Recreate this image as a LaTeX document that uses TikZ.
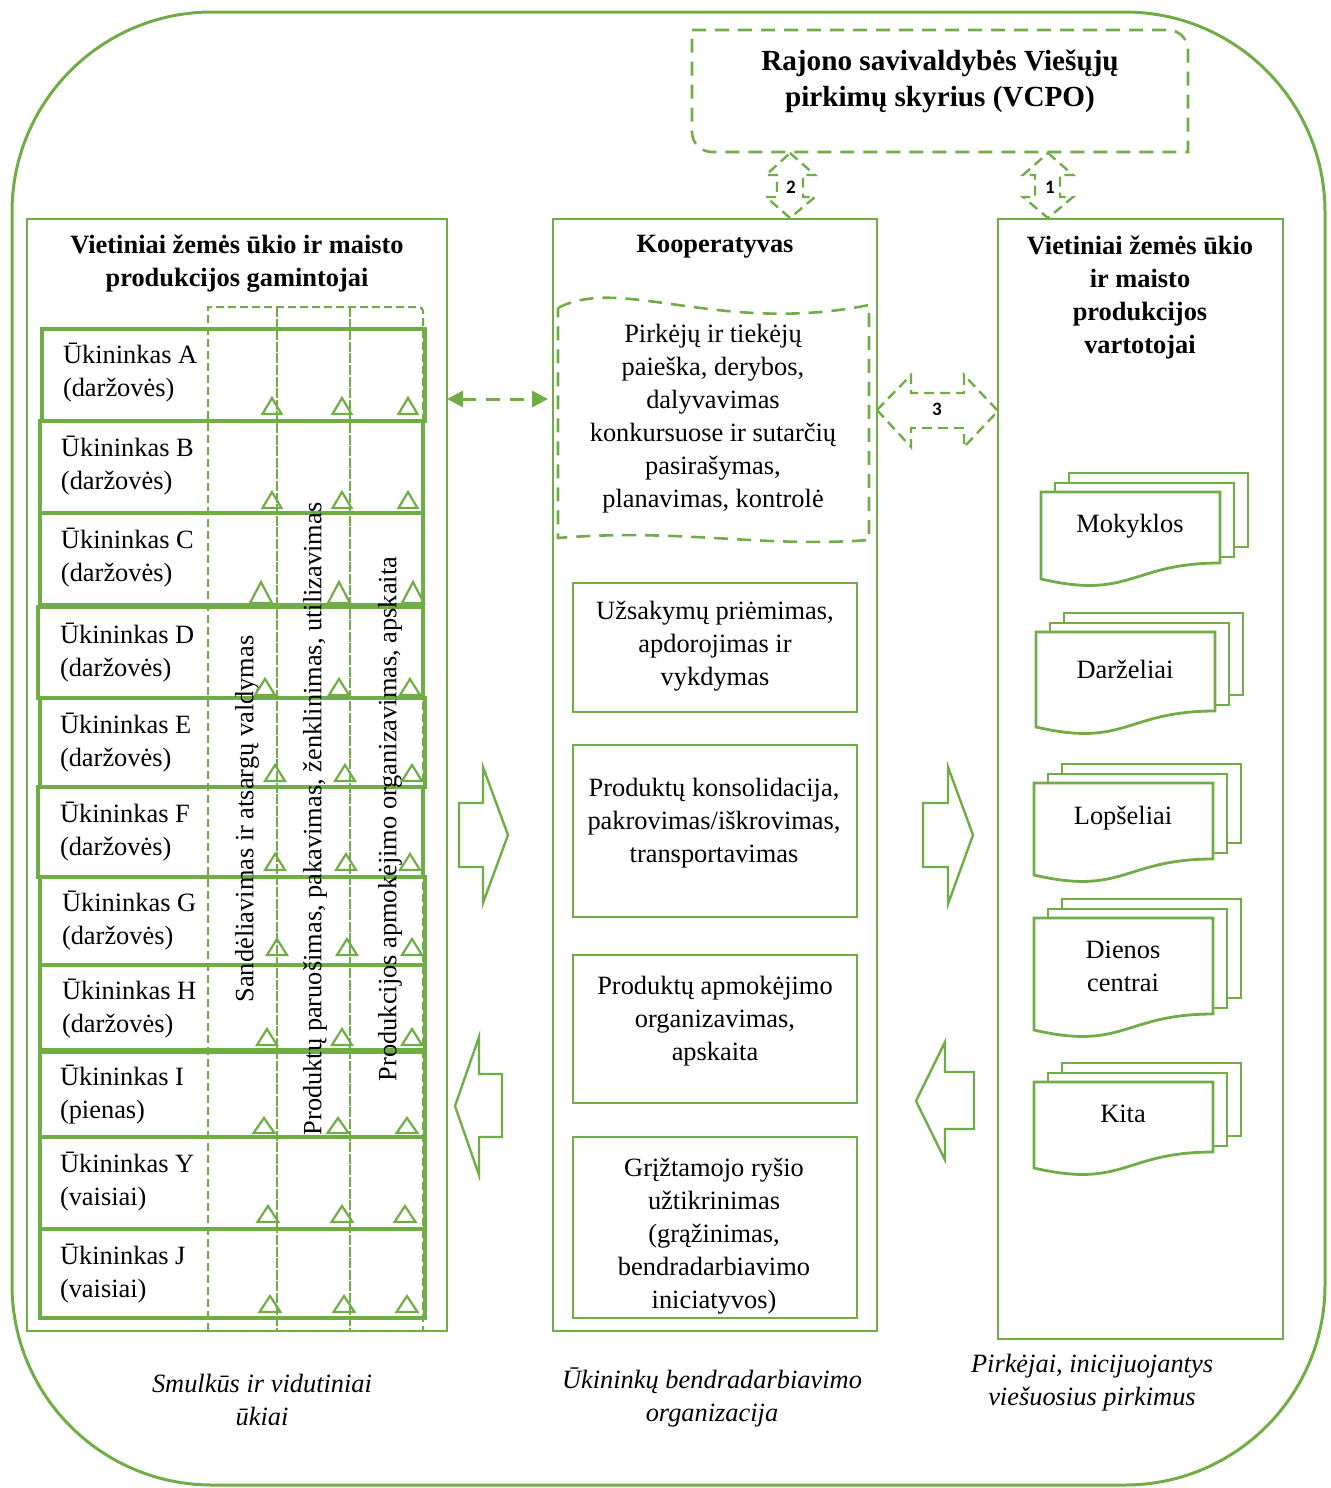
\documentclass[tikz,border=0pt]{standalone}
\usepackage{fontspec}
\setmainfont{Liberation Serif}
\newfontfamily\numfont{Carlito}
\usetikzlibrary{fit,arrows.meta}
\definecolor{grn}{RGB}{112,173,71}
% small outline triangle: centre x, base y, width, height
\newcommand\trimark[4]{\draw[trimk] ({#1-#3/2},#2) -- (#1,{#2-#4}) -- ({#1+#3/2},#2) -- cycle;}
% stack of three documents: x0, top y, height, name, text, text y
\newcommand\docstack[6]{%
  \filldraw[docln] ({#1+28},{#2-19}) rectangle ({#1+207},{#2+#3-32});
  \filldraw[docln] ({#1+14},{#2-9}) rectangle ({#1+193},{#2+#3-22});
  \filldraw[docln] (#1,#2) -- ({#1+179},#2) -- ({#1+179},{#2+#3-16})
     .. controls ({#1+90},{#2+#3-16}) and ({#1+90},{#2+#3+21}) .. (#1,{#2+#3}) -- cycle;
  \node[txt] (#4) at ({#1+89},#6) {#5};
}
\begin{document}
\begin{tikzpicture}[x=0.5pt,y=-0.5pt,
  every node/.style={inner sep=0pt, outer sep=0pt},
  txt/.style={font=\fontsize{13.2}{16.5}\selectfont, align=center},
  hdr/.style={font=\fontsize{13.2}{16.5}\selectfont\bfseries, align=center},
  captxt/.style={font=\fontsize{13.2}{16.5}\selectfont\itshape, align=center},
  num/.style={font=\numfont\bfseries\fontsize{9.5}{11}\selectfont},
  frame/.style={draw=grn, line width=1.5pt, rounded corners=100pt},
  colbox/.style={draw=grn, line width=1.2pt},
  rowbox/.style={draw=grn, line width=1.6pt},
  taskbox/.style={draw=grn, line width=1.3pt},
  coldash/.style={draw=grn, line width=1pt, dash pattern=on 4pt off 2pt},
  colsplit/.style={draw=grn, line width=1pt, dash pattern=on 5pt off 0.8pt},
  wavedash/.style={draw=grn, line width=1.3pt, dash pattern=on 7pt off 4.5pt},
  arrdash/.style={draw=grn, line width=1.2pt, dash pattern=on 5pt off 3pt},
  blockarr/.style={draw=grn, line width=1.2pt},
  trimk/.style={draw=grn, line width=1.1pt},
  docln/.style={fill=white, draw=grn, line width=1.4pt},
  linkarr/.style={draw=grn, line width=1.5pt, dash pattern=on 7pt off 5pt,
     {Triangle[length=8pt,width=8pt]}-{Triangle[length=8pt,width=8pt]}}
]
\useasboundingbox (0,0) rectangle (1330,1488);

% outer frame
\node[frame, fit={(12,12) (1325,1485)}] (frame) {};

% procurement office
\draw[wavedash] (692,30) -- (1168,30) .. controls (1179,30) and (1188,39) .. (1188,50)
  -- (1188,152) -- (712,152) .. controls (701,152) and (692,143) .. (692,132) -- cycle;
\node[font=\fontsize{14.6}{18}\selectfont\bfseries, align=center] (vcpo) at (940,81)
  {Rajono savivaldybės Viešųjų\\pirkimų skyrius (VCPO)};

% three columns
\node[colbox, fit={(27,219) (447,1331)}] (lcol) {};
\node[colbox, fit={(553,219) (877,1331)}] (mcol) {};
\node[colbox, fit={(998,219) (1283,1339)}] (rcol) {};

\node[hdr] (lhead) at (237,264) {Vietiniai žemės ūkio ir maisto\\produkcijos gamintojai};
\node[hdr] (mhead) at (715,247) {Kooperatyvas};
\node[hdr] (rhead) at (1140,297) {Vietiniai žemės ūkio\\ir maisto\\produkcijos\\vartotojai};

% vertical double arrows from the office
\draw[arrdash] (790,153) -- (815,175) -- (803,175) -- (803,197) -- (815,197) -- (790,218)
  -- (766,197) -- (777,197) -- (777,175) -- (766,175) -- cycle;
\node[num] (n2) at (791,187) {2};
\draw[arrdash] (1048,153) -- (1073,175) -- (1060,175) -- (1060,197) -- (1073,197) -- (1048,218)
  -- (1023,197) -- (1035,197) -- (1035,175) -- (1023,175) -- cycle;
\node[num] (n1) at (1050,187) {1};

% horizontal double arrow between cooperative and consumers
\draw[arrdash] (877,410) -- (911,375) -- (911,393) -- (964,393) -- (964,375) -- (998,411)
  -- (964,447) -- (964,428) -- (911,428) -- (911,447) -- cycle;
\node[num] (n3) at (937,409) {3};

% producer rows
\node[rowbox, fit={(42,329) (425,421)}] (rA) {};
\node[rowbox, fit={(40,421) (423,513)}] (rB) {};
\node[rowbox, fit={(40,513) (423,605)}] (rC) {};
\node[rowbox, fit={(38,607) (423,698)}] (rD) {};
\node[rowbox, fit={(40,698) (425,787)}] (rE) {};
\node[rowbox, fit={(38,787) (423,877)}] (rF) {};
\node[rowbox, fit={(40,877) (425,965)}] (rG) {};
\node[rowbox, fit={(40,965) (425,1050)}] (rH) {};
\node[rowbox, fit={(40,1052) (425,1137)}] (rI) {};
\node[rowbox, fit={(40,1137) (425,1229)}] (rY) {};
\node[rowbox, fit={(40,1229) (425,1318)}] (rJ) {};

\node[txt, align=left, anchor=west] (tA) at (63,373) {Ūkininkas A\\(daržovės)};
\node[txt, align=left, anchor=west] (tB) at (61,466) {Ūkininkas B\\(daržovės)};
\node[txt, align=left, anchor=west] (tC) at (61,558) {Ūkininkas C\\(daržovės)};
\node[txt, align=left, anchor=west] (tD) at (60,653) {Ūkininkas D\\(daržovės)};
\node[txt, align=left, anchor=west] (tE) at (60,743) {Ūkininkas E\\(daržovės)};
\node[txt, align=left, anchor=west] (tF) at (60,832) {Ūkininkas F\\(daržovės)};
\node[txt, align=left, anchor=west] (tG) at (62,921) {Ūkininkas G\\(daržovės)};
\node[txt, align=left, anchor=west] (tH) at (62,1009) {Ūkininkas H\\(daržovės)};
\node[txt, align=left, anchor=west] (tI) at (60,1095) {Ūkininkas I\\(pienas)};
\node[txt, align=left, anchor=west] (tY) at (60,1182) {Ūkininkas Y\\(vaisiai)};
\node[txt, align=left, anchor=west] (tJ) at (60,1274) {Ūkininkas J\\(vaisiai)};

% activity columns across the rows
\draw[coldash] (208,1331) -- (208,307) -- (419,307) .. controls (421,307) and (423,309) .. (423,311) -- (423,1331) -- cycle;
\draw[colsplit] (277,307) -- (277,1331);
\draw[colsplit] (350,307) -- (350,1331);
\node[txt, rotate=90] (c1) at (247,819) {Sandėliavimas ir atsargų valdymas};
\node[txt, rotate=90] (c2) at (315,819) {Produktų paruošimas, pakavimas, ženklinimas, utilizavimas};
\node[txt, rotate=90] (c3) at (390,819) {Produkcijos apmokėjimo organizavimas, apskaita};

% triangles marking each farm in each activity
\foreach \a/\b/\c/\y/\w/\h in {272/342/408/414/19/16, 272/342/408/508/19/16,
   261/339/413/603/22/21, 265/339/410/695/20/16, 275/345/412/781/20/16,
   275/346/410/870/20/16, 277/347/412/955/20/16, 267/342/412/1045/20/16,
   264/338/407/1133/21/15, 268/342/405/1222/21/16, 270/344/407/1312/21/16}{
  \trimark{\a}{\y}{\w}{\h}
  \trimark{\b}{\y}{\w}{\h}
  \trimark{\c}{\y}{\w}{\h}
}

% cooperative tasks
\draw[wavedash] (558,308) .. controls (620,275) and (720,335) .. (869,305) -- (869,540)
  .. controls (760,548) and (680,528) .. (558,538) -- cycle;
\node[txt] (search) at (713,419) {Pirkėjų ir tiekėjų\\paieška, derybos,\\dalyvavimas\\konkursuose ir sutarčių\\pasirašymas,\\planavimas, kontrolė};

\node[taskbox, fit={(573,583) (857,712)}] (b1) {};
\node[txt] (t1) at (715,646) {Užsakymų priėmimas,\\apdorojimas ir\\vykdymas};
\node[taskbox, fit={(573,745) (857,917)}] (b2) {};
\node[txt] (t2) at (714,823) {Produktų konsolidacija,\\pakrovimas/iškrovimas,\\transportavimas};
\node[taskbox, fit={(573,955) (857,1103)}] (b3) {};
\node[txt] (t3) at (715,1021) {Produktų apmokėjimo\\organizavimas,\\apskaita};
\begin{scope}
  \clip (573,1137) rectangle (857,1314);
  \node[txt] (t4) at (714,1236) {Grįžtamojo ryšio\\užtikrinimas\\(grąžinimas,\\bendradarbiavimo\\iniciatyvos)};
\end{scope}
\node[taskbox, fit={(573,1137) (857,1318)}] (b4) {};

% link between producers and cooperative
\coordinate (lk) at (0,399);
\draw[linkarr] (lcol.east |- lk) -- ([xshift=-2.5pt]mcol.west |- lk);

% flow arrows
\draw[blockarr] (459,803) -- (483,803) -- (483,767) -- (508,835) -- (483,903) -- (483,867) -- (459,867) -- cycle;
\draw[blockarr] (455,1106) -- (479,1037) -- (479,1074) -- (502,1074) -- (502,1137) -- (479,1137) -- (479,1175) -- cycle;
\draw[blockarr] (923,803) -- (948,803) -- (948,767) -- (973,835) -- (948,904) -- (948,867) -- (923,867) -- cycle;
\draw[blockarr] (916,1101) -- (945,1042) -- (945,1072) -- (974,1072) -- (974,1129) -- (945,1129) -- (945,1160) -- cycle;

% consumer institutions
\docstack{1041}{492}{87}{dMok}{Mokyklos}{526}
\docstack{1036}{632}{95}{dDar}{Darželiai}{669}
\docstack{1034}{783}{92}{dLop}{Lopšeliai}{818}
\docstack{1034}{918}{112}{dDie}{Dienos\\centrai}{966}
\docstack{1034}{1082}{86}{dKit}{Kita}{1114}

% captions
\node[captxt] (capL) at (262,1400) {Smulkūs ir vidutiniai\\ūkiai};
\node[captxt] (capM) at (712,1397) {Ūkininkų bendradarbiavimo\\organizacija};
\node[captxt] (capR) at (1092,1383) {Pirkėjai, inicijuojantys\\viešuosius pirkimus};
\end{tikzpicture}
\end{document}
